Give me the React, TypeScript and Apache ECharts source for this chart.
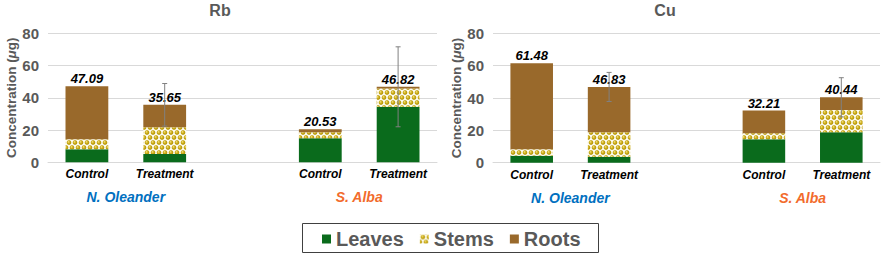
import React, { useEffect, useRef } from 'react';
import * as echarts from 'echarts';

const categories = ['Control', 'Treatment', '', 'Control', 'Treatment'];
const groupLabels = ['N. Oleander', 'S. Alba'];
const groupPositions = [1, 4];
const groupColors = ['#0070C0', '#F26B2C'];
const seriesNames = ['Leaves', 'Stems', 'Roots'];
const panelTitles = ['Rb', 'Cu'];

const rbLeaves = [8.1, 5.1, null, 14.9, 34.5];
const rbStems = [6.2, 16.6, null, 3.7, 11.3];
const rbRoots = [32.79, 13.95, null, 1.93, 1.02];
const rbTotals = [47.09, 35.65, null, 20.53, 46.82];
const rbErrors = [null, 13.2, null, null, 24.8];

const cuLeaves = [4.3, 3.7, null, 14.5, 18.8];
const cuStems = [4.0, 15.1, null, 3.7, 13.8];
const cuRoots = [53.18, 28.03, null, 14.01, 7.84];
const cuTotals = [61.48, 46.83, null, 32.21, 40.44];
const cuErrors = [null, 9.0, null, null, 12.1];

const yMin = 0;
const yMax = 80;
const yInterval = 20;

const FONT = 'Liberation Sans, Arial, sans-serif';
const GRAY = '#595959';

function makeStemPattern() {
  const s = 4;
  const c = document.createElement('canvas');
  c.width = 6 * s;
  c.height = 10 * s;
  const ctx = c.getContext('2d')!;
  ctx.fillStyle = '#FFFDF2';
  ctx.fillRect(0, 0, c.width, c.height);
  const centers = [
    [3, 2.5],
    [0, 7.5],
    [6, 7.5],
  ];
  for (const [cx, cy] of centers) {
    const g = ctx.createRadialGradient((cx - 0.7) * s, (cy - 0.8) * s, 0.2 * s, cx * s, cy * s, 2.4 * s);
    g.addColorStop(0, '#F6E690');
    g.addColorStop(0.45, '#D2B21C');
    g.addColorStop(1, '#A88A00');
    ctx.fillStyle = g;
    ctx.beginPath();
    ctx.arc(cx * s, cy * s, 2.3 * s, 0, Math.PI * 2);
    ctx.fill();
  }
  return { image: c, repeat: 'repeat', imageWidth: 6, imageHeight: 10 } as any;
}

const toPairs = (vals: (number | null)[]) => vals.map((v) => (v == null ? '-' : v));

export default function App() {
  const ref = useRef<HTMLDivElement>(null);
  useEffect(() => {
    if (!ref.current) return;
    const chart = echarts.init(ref.current, null, { renderer: 'svg' });
    const stemPattern = makeStemPattern();
    const colors = ['#0A6B1C', stemPattern, '#99692B'];

    const panels = [
      { leaves: rbLeaves, stems: rbStems, roots: rbRoots, totals: rbTotals, errors: rbErrors },
      { leaves: cuLeaves, stems: cuStems, roots: cuRoots, totals: cuTotals, errors: cuErrors },
    ];
    const grids = [
      { left: 48, top: 33.3, width: 389, height: 129 },
      { left: 493, top: 33.3, width: 387, height: 129.4 },
    ];
    const titleCenters = [220, 665];

    const xAxes: any[] = [];
    const yAxes: any[] = [];
    const series: any[] = [];

    panels.forEach((p, gi) => {
      xAxes.push({
        type: 'category',
        gridIndex: gi,
        data: categories,
        axisLine: { lineStyle: { color: '#D9D9D9' } },
        axisTick: { show: false },
        axisLabel: {
          interval: 0,
          margin: 6,
          color: '#000',
          fontSize: 12,
          fontWeight: 'bold',
          fontStyle: 'italic',
          fontFamily: FONT,
        },
      });
      xAxes.push({
        type: 'value',
        gridIndex: gi,
        min: 0,
        max: categories.length,
        interval: 1,
        position: 'bottom',
        axisLine: { show: false },
        axisTick: { show: false },
        splitLine: { show: false },
        axisLabel: {
          margin: 28,
          fontSize: 14,
          fontWeight: 'bold',
          fontStyle: 'italic',
          fontFamily: FONT,
          formatter: (v: number) => {
            const i = groupPositions.indexOf(v);
            return i >= 0 ? `{g${i}|${groupLabels[i]}}` : '';
          },
          rich: {
            g0: { color: groupColors[0], fontSize: 14, fontWeight: 'bold', fontStyle: 'italic', fontFamily: FONT },
            g1: { color: groupColors[1], fontSize: 14, fontWeight: 'bold', fontStyle: 'italic', fontFamily: FONT },
          },
        },
      });
      yAxes.push({
        type: 'value',
        gridIndex: gi,
        min: yMin,
        max: yMax,
        interval: yInterval,
        name: 'Concentration ({i|μ}g)',
        nameLocation: 'middle',
        nameRotate: 90,
        nameGap: 28,
        nameTextStyle: {
          color: GRAY,
          fontSize: 13.5,
          fontWeight: 'bold',
          fontFamily: FONT,
          rich: { i: { fontStyle: 'italic', color: GRAY, fontSize: 13.5, fontWeight: 'bold', fontFamily: FONT } },
        },
        axisLine: { show: false },
        axisTick: { show: false },
        splitLine: { lineStyle: { color: '#D9D9D9', width: 1 } },
        axisLabel: { color: GRAY, fontSize: 15, fontWeight: 'bold', margin: 9, fontFamily: FONT },
      });

      const vals = [p.leaves, p.stems, p.roots];
      seriesNames.forEach((name, si) => {
        const s: any = {
          name,
          type: 'bar',
          stack: 'total' + gi,
          xAxisIndex: gi * 2,
          yAxisIndex: gi,
          barWidth: '55%',
          data: toPairs(vals[si]),
          itemStyle: { color: colors[si] },
        };
        if (si === 2) {
          s.label = {
            show: true,
            position: 'top',
            distance: 1,
            color: '#000',
            fontSize: 13,
            fontWeight: 'bold',
            fontStyle: 'italic',
            fontFamily: FONT,
            formatter: (prm: any) => {
              const t = p.totals[prm.dataIndex];
              return t == null ? '' : t.toFixed(2);
            },
          };
        }
        series.push(s);
      });

      const errData: any[] = [];
      p.errors.forEach((e, i) => {
        if (e != null && p.totals[i] != null) errData.push([i, p.totals[i], e]);
      });
      series.push({
        type: 'custom',
        xAxisIndex: gi * 2,
        yAxisIndex: gi,
        z: 10,
        silent: true,
        data: errData,
        encode: { x: 0, y: 1 },
        renderItem: (params: any, api: any) => {
          const idx = api.value(0);
          const v = api.value(1);
          const e = api.value(2);
          const hi = api.coord([idx, v + e]);
          const lo = api.coord([idx, v - e]);
          const style = { stroke: '#808080', lineWidth: 1 };
          const cap = 2.5;
          return {
            type: 'group',
            children: [
              { type: 'line', shape: { x1: hi[0], y1: hi[1], x2: lo[0], y2: lo[1] }, style },
              { type: 'line', shape: { x1: hi[0] - cap, y1: hi[1], x2: hi[0] + cap, y2: hi[1] }, style },
              { type: 'line', shape: { x1: lo[0] - cap, y1: lo[1], x2: lo[0] + cap, y2: lo[1] }, style },
            ],
          };
        },
      });
    });

    chart.setOption({
      animation: false,
      textStyle: { fontFamily: FONT },
      title: panelTitles.map((t, i) => ({
        text: t,
        left: titleCenters[i],
        top: 2,
        padding: 0,
        textAlign: 'center',
        textStyle: { color: GRAY, fontSize: 16, fontWeight: 'bold', fontFamily: FONT },
      })),
      grid: grids,
      xAxis: xAxes,
      yAxis: yAxes,
      legend: {
        data: seriesNames,
        left: 322,
        top: 229,
        padding: 0,
        itemWidth: 9,
        itemHeight: 9,
        itemGap: 16,
        icon: 'rect',
        textStyle: { color: GRAY, fontSize: 20, fontWeight: 'bold', fontFamily: FONT },
      },
      graphic: [
        {
          type: 'rect',
          shape: { x: 302.5, y: 223.5, width: 296, height: 29 },
          style: { fill: 'none', stroke: '#404040', lineWidth: 1 },
          z: -1,
        },
      ],
      series,
    });
    return () => chart.dispose();
  }, []);
  return (
    <div
      ref={ref}
      style={{ position: 'fixed', left: 0, top: 0, width: 886, height: 254, background: '#fff' }}
    />
  );
}
